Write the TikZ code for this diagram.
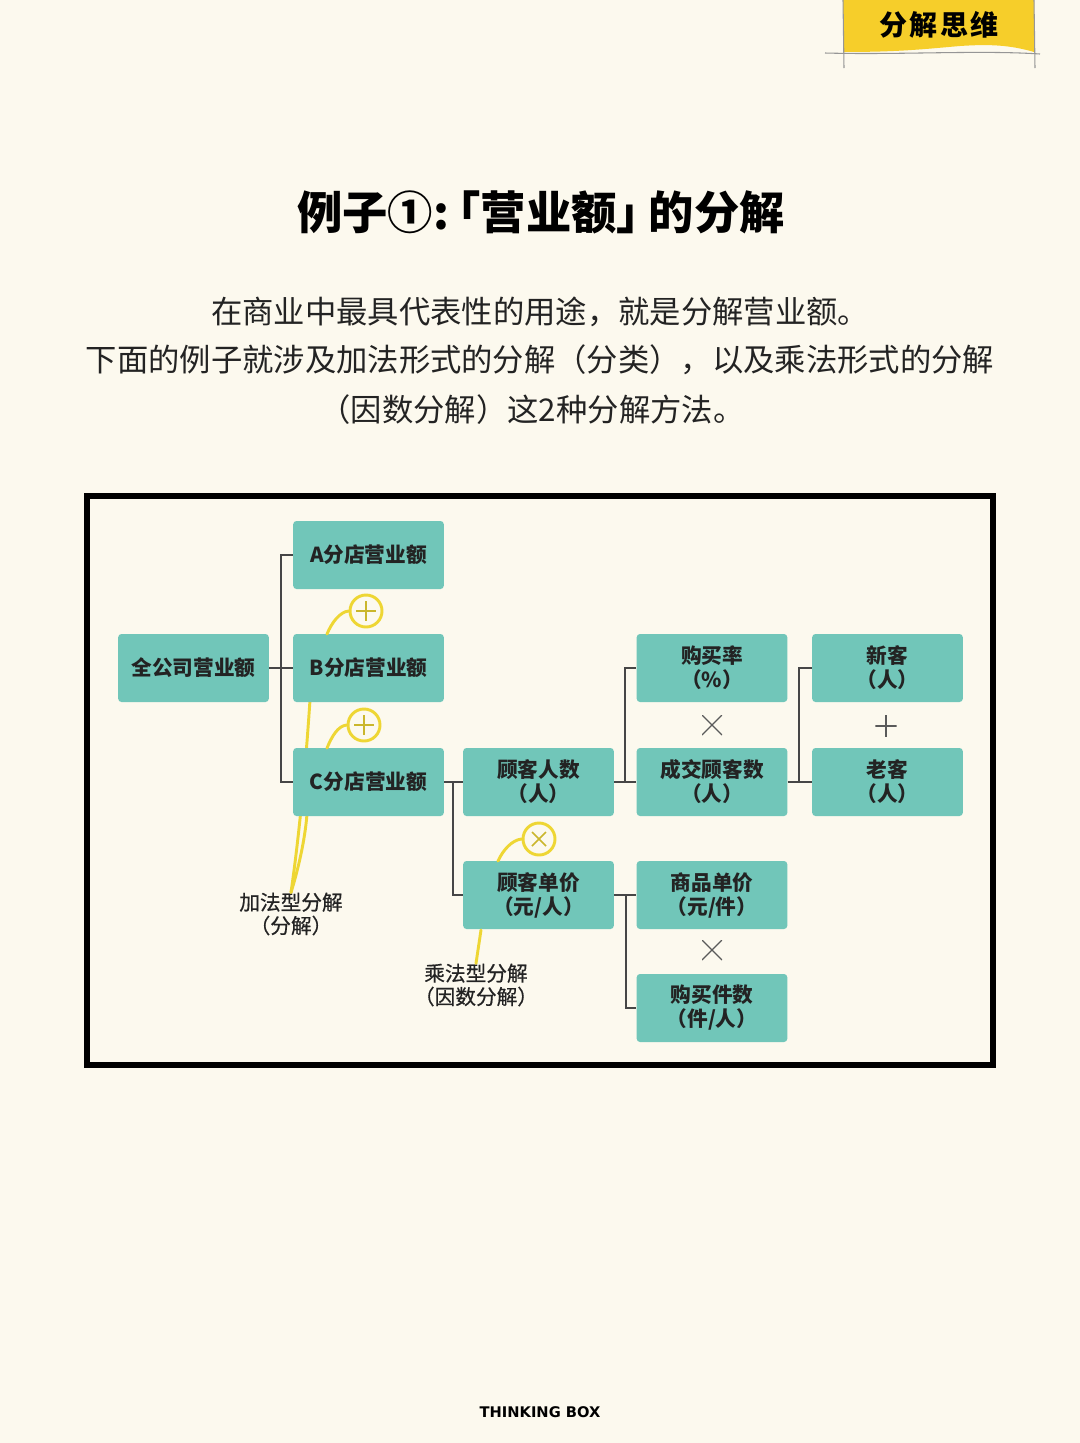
\documentclass[tikz,border=0pt]{standalone}
\usepackage{fontspec}
\setmainfont{Noto Sans CJK SC}
\newfontfamily\cjk{Noto Sans CJK SC}
\newfontfamily\labfont[FakeBold=0.6]{Noto Sans CJK SC}
\newfontfamily\titlefont[RawFeature=+halt]{Noto Sans CJK SC}
\newfontfamily\tagfont[LetterSpace=8]{Noto Sans CJK SC}
\newfontfamily\footfont{DejaVu Sans}
\usetikzlibrary{calc}
\definecolor{bgc}{RGB}{252,249,238}
\definecolor{teal1}{RGB}{113,198,185}
\definecolor{tagy}{RGB}{246,206,42}
\definecolor{yl}{RGB}{238,214,52}
\definecolor{txt}{RGB}{35,35,35}
\definecolor{connc}{RGB}{70,70,70}
\definecolor{opc}{RGB}{90,90,90}
\definecolor{tagline}{RGB}{150,150,150}
\tikzset{
  box/.style={fill=teal1, rounded corners=2.5pt, minimum width=113pt, minimum height=51pt,
    inner sep=0pt, align=center, text=txt, font=\cjk\bfseries\fontsize{15.5}{18}\selectfont},
  conn/.style={draw=connc, line width=1.4pt},
  yline/.style={draw=yl, line width=2.2pt, line cap=round},
  ycirc/.style={circle, draw=yl, line width=2.2pt, fill=bgc, minimum size=24pt, inner sep=0pt},
  cplus/.style={ycirc, path picture={\draw[yl!85!black, line width=1.3pt]
      ($(path picture bounding box.center)+(-10,0)$) -- ($(path picture bounding box.center)+(10,0)$)
      ($(path picture bounding box.center)+(0,-10)$) -- ($(path picture bounding box.center)+(0,10)$);}},
  ctimes/.style={ycirc, path picture={\draw[yl!85!black, line width=1.3pt]
      ($(path picture bounding box.center)+(-7,-7)$) -- ($(path picture bounding box.center)+(7,7)$)
      ($(path picture bounding box.center)+(7,-7)$) -- ($(path picture bounding box.center)+(-7,7)$);}},
  opx/.style={minimum size=15pt, inner sep=0pt, path picture={\draw[opc, line width=1pt]
      (path picture bounding box.north west) -- (path picture bounding box.south east)
      (path picture bounding box.north east) -- (path picture bounding box.south west);}},
  opplus/.style={minimum size=16pt, inner sep=0pt, path picture={\draw[opc, line width=1pt]
      (path picture bounding box.north) -- (path picture bounding box.south)
      (path picture bounding box.west) -- (path picture bounding box.east);}},
  lab/.style={align=center, text=txt, inner sep=0pt, font=\labfont\fontsize{15.5}{17.5}\selectfont},
  para/.style={text=txt, inner sep=0pt, font=\cjk\fontsize{23.5}{28}\selectfont},
}
\begin{document}
\begin{tikzpicture}[x=0.75pt,y=-0.75pt]
\fill[bgc] (0,0) rectangle (1080,1443);
\useasboundingbox (0,0) rectangle (1080,1443);

% tag
\fill[tagy] (843,0) -- (1034,0) -- (1034,52) .. controls (1010,45) and (990,44) .. (960,46)
  .. controls (925,49) and (900,52) .. (843,52) -- cycle;
\draw[tagline, line width=0.8pt] (825,53) .. controls (900,55) and (980,50) .. (1040,54);
\draw[tagline, line width=0.8pt] (843,0) -- (844,68);
\draw[tagline, line width=0.8pt] (1034,0) -- (1035,68);
\node[font=\tagfont\bfseries\fontsize{21}{24}\selectfont, text=black] (tag) at (939,25) {分解思维};

% title and paragraph
\node[font=\titlefont\bfseries\fontsize{34}{40}\selectfont, text=black] (title) at (541,212) {例子①:\hspace{7pt}「营业额」\hspace{7pt}的分解};
\node[para] (p1) at (540,312) {在商业中最具代表性的用途，就是分解营业额。};
\node[para] (p2) at (540,360) {下面的例子就涉及加法形式的分解（分类），以及乘法形式的分解};
\node[para] (p3) at (532,410) {（因数分解）这2种分解方法。};

% frame
\draw[black, line width=3.8pt] (87,496) rectangle (993,1065);

% labels
\node[lab] (lab1) at (291,914) {加法型分解\\（分解）};
\node[lab] (lab2) at (476,985) {乘法型分解\\（因数分解）};

% long yellow line (behind boxes)
\coordinate (yb1) at (310,700);
\coordinate (yc1) at (307,814);
\draw[yline] (yb1) .. controls (306,760) and (300,830) .. (lab1.north);
\draw[yline] (yc1) .. controls (305,840) and (298,870) .. (lab1.north);

% boxes
\node[box] (all) at (193.5,668) {全公司营业额};
\node[box] (A) at (368.5,555) {A分店营业额};
\node[box] (B) at (368.5,668) {B分店营业额};
\node[box] (C) at (368.5,782) {C分店营业额};
\node[box] (cnum) at (538.5,782) {顾客人数\\（人）};
\node[box] (cprice) at (538.5,895) {顾客单价\\（元/人）};
\node[box] (rate) at (712,668) {购买率\\（\%）};
\node[box] (deal) at (712,782) {成交顾客数\\（人）};
\node[box] (new) at (887.5,668) {新客\\（人）};
\node[box] (old) at (887.5,782) {老客\\（人）};
\node[box] (unit) at (712,895) {商品单价\\（元/件）};
\node[box] (qty) at (712,1008) {购买件数\\（件/人）};

% connectors
\coordinate (b1) at (281,668);
\draw[conn] (all.east) -- (B.west);
\draw[conn] (A.west) -| (b1) |- (C.west);
\coordinate (b2) at (453,782);
\draw[conn] (C.east) -- (cnum.west);
\draw[conn] (b2) |- (cprice.west);
\coordinate (b3) at (625,782);
\draw[conn] (cnum.east) -- (deal.west);
\draw[conn] (b3) |- (rate.west);
\coordinate (b4) at (799,782);
\draw[conn] (deal.east) -- (old.west);
\draw[conn] (b4) |- (new.west);
\coordinate (b5) at (626,895);
\draw[conn] (cprice.east) -- (unit.west);
\draw[conn] (b5) |- (qty.west);

% operators
\node[opx] (x1) at (712,725) {};
\node[opplus] (x2) at (886,726) {};
\node[opx] (x3) at (712,950) {};

% yellow operator circles
\node[cplus] (c1) at (366,611) {};
\node[cplus] (c2) at (364,725) {};
\node[ctimes] (c3) at (539,839) {};
\coordinate (q1) at (327,634);
\coordinate (q2) at (327,748);
\coordinate (q3) at (498,861);
\draw[yline] (c1.west) .. controls (340,612) and (332,622) .. (q1);
\draw[yline] (c2.west) .. controls (338,726) and (332,736) .. (q2);
\draw[yline] (c3.west) .. controls (512,840) and (503,850) .. (q3);
\coordinate (m1) at (481,930);
\draw[yline] (m1) -- (lab2.north);

% footer
\node[font=\footfont\bfseries\fontsize{11}{13}\selectfont, text=black] (foot) at (540,1412) {THINKING BOX};
\end{tikzpicture}
\end{document}
